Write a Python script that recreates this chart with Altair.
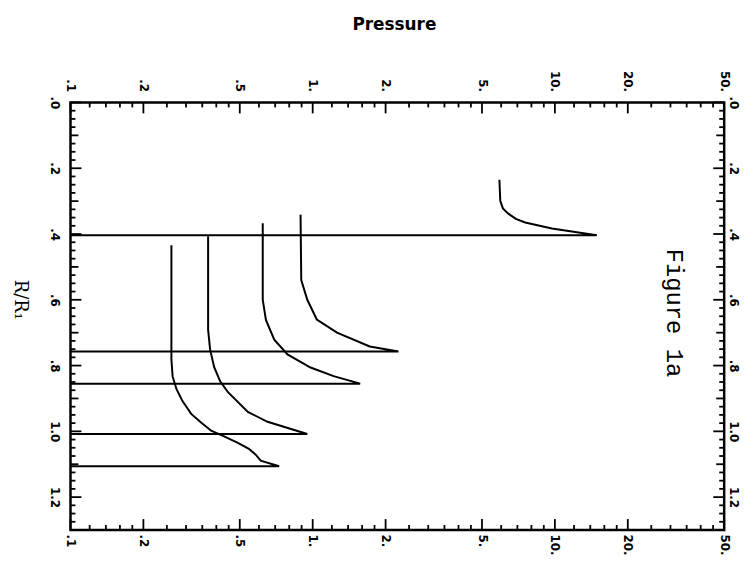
import altair as alt
import pandas as pd

# ---- data ----
shell1_p = [5.90, 5.95, 6.10, 6.42, 6.90, 7.54, 9.72, 14.9]
shell1_r = [0.235, 0.299, 0.322, 0.338, 0.354, 0.365, 0.383, 0.404]

shell2_p = [0.891, 0.897, 0.950, 1.04, 1.26, 1.72, 2.26]
shell2_r = [0.341, 0.540, 0.600, 0.660, 0.700, 0.742, 0.757]

shell3_p = [0.622, 0.622, 0.641, 0.694, 0.787, 0.980, 1.22, 1.57]
shell3_r = [0.367, 0.600, 0.661, 0.721, 0.766, 0.806, 0.832, 0.855]

shell4_p = [0.370, 0.370, 0.377, 0.392, 0.415, 0.447, 0.540, 0.651, 0.950]
shell4_r = [0.407, 0.691, 0.751, 0.805, 0.848, 0.881, 0.941, 0.971, 1.008]

shell5_p = [0.261, 0.261, 0.264, 0.274, 0.290, 0.315, 0.347, 0.381, 0.435,
            0.491, 0.545, 0.582, 0.610, 0.727]
shell5_r = [0.434, 0.781, 0.833, 0.872, 0.908, 0.947, 0.974, 0.998, 1.017,
            1.035, 1.053, 1.071, 1.089, 1.106]

p_min = 0.1  # left edge of the pressure axis (each wall line runs back to it)

x_major = [0.1, 0.2, 0.5, 1, 2, 5, 10, 20, 50]
x_major_labels = [".1", ".2", ".5", "1.", "2.", "5.", "10.", "20.", "50."]
x_minor = [0.12, 0.14, 0.16, 0.18, 0.25, 0.3, 0.35, 0.4, 0.45,
           0.6, 0.7, 0.8, 0.9, 1.2, 1.4, 1.6, 1.8, 2.5, 3, 3.5, 4, 4.5,
           6, 7, 8, 9, 12, 14, 16, 18, 25, 30, 35, 40, 45]

y_major = [0.0, 0.2, 0.4, 0.6, 0.8, 1.0, 1.2]
y_major_labels = [".0", ".2", ".4", ".6", ".8", "1.0", "1.2"]
y_mid = [0.1, 0.3, 0.5, 0.7, 0.9, 1.1]
y_minor = [0.025, 0.05, 0.075, 0.125, 0.15, 0.175, 0.225, 0.25, 0.275,
           0.325, 0.35, 0.375, 0.425, 0.45, 0.475, 0.525, 0.55, 0.575,
           0.625, 0.65, 0.675, 0.725, 0.75, 0.775, 0.825, 0.85, 0.875,
           0.925, 0.95, 0.975, 1.025, 1.05, 1.075, 1.125, 1.15, 1.175,
           1.225, 1.25, 1.275]

fig_text = ["Figure 1a"]
fig_p = [31.0]
fig_r = [0.64]

y_title = "R/R₁"
x_title = "Pressure"

# ---- build table ----
rows = []
for k, (ps, rs) in enumerate([(shell1_p, shell1_r), (shell2_p, shell2_r),
                              (shell3_p, shell3_r), (shell4_p, shell4_r),
                              (shell5_p, shell5_r)]):
    pts = list(zip(ps, rs)) + [(p_min, rs[-1])]
    for i, (p, r) in enumerate(pts):
        rows.append({"shell": k, "idx": i, "P": p, "R": r})
df = pd.DataFrame(rows)

W, H = 659, 431
xscale = alt.Scale(type="log", domain=[0.1, 50], nice=False)
yscale = alt.Scale(domain=[0, 1.3], reverse=True, nice=False, zero=False)

def label_expr(vals, labs):
    e = "''"
    for v, l in reversed(list(zip(vals, labs))):
        e = f"datum.value == {v} ? '{l}' : ({e})"
    return e

lab_common = dict(ticks=False, domain=False, grid=False, labelAngle=90,
                  labelFont="DejaVu Sans", labelFontWeight="bold",
                  labelFontSize=12, labelColor="black", labelFlush=False,
                  labelOverlap=False, labelBound=False)

x_bottom = alt.Axis(orient="bottom", values=x_major,
                    labelExpr=label_expr(x_major, x_major_labels),
                    labelAlign="left", labelBaseline="middle",
                    labelPadding=4, title=None, **lab_common)
x_top = alt.Axis(orient="top", values=x_major,
                 labelExpr=label_expr(x_major, x_major_labels),
                 labelAlign="right", labelBaseline="middle",
                 labelPadding=11, title=x_title,
                 titleFont="DejaVu Sans", titleFontWeight="bold",
                 titleFontSize=17, titleColor="black",
                 titleAlign="center", titleBaseline="middle",
                 titleX=326, titleY=-79, **lab_common)
y_left = alt.Axis(orient="left", values=y_major,
                  labelExpr=label_expr(y_major, y_major_labels),
                  labelAlign="center", labelBaseline="top",
                  labelPadding=11, title=None, **lab_common)
y_right = alt.Axis(orient="right", values=y_major,
                   labelExpr=label_expr(y_major, y_major_labels),
                   labelAlign="center", labelBaseline="alphabetic",
                   labelPadding=5, title=None, **lab_common)

lines = alt.Chart(df).mark_line(color="black", strokeWidth=2).encode(
    x=alt.X("P:Q", scale=xscale, axis=x_bottom),
    y=alt.Y("R:Q", scale=yscale, axis=y_left),
    detail="shell:N",
    order="idx:Q",
)
axes2 = alt.Chart(df).mark_point(opacity=0).encode(
    x=alt.X("P:Q", scale=xscale, axis=x_top),
    y=alt.Y("R:Q", scale=yscale, axis=y_right),
)

def xticks(vals, length):
    d = pd.DataFrame({"v": vals})
    top = alt.Chart(d).mark_rule(color="black", strokeWidth=1.8).encode(
        x=alt.X("v:Q", scale=xscale, axis=None),
        y=alt.value(0), y2=alt.value(length))
    bot = alt.Chart(d).mark_rule(color="black", strokeWidth=1.8).encode(
        x=alt.X("v:Q", scale=xscale, axis=None),
        y=alt.value(H), y2=alt.value(H - length))
    return [top, bot]

def yticks(vals, length):
    d = pd.DataFrame({"v": vals})
    left = alt.Chart(d).mark_rule(color="black", strokeWidth=1.8).encode(
        y=alt.Y("v:Q", scale=yscale, axis=None),
        x=alt.value(0), x2=alt.value(length))
    right = alt.Chart(d).mark_rule(color="black", strokeWidth=1.8).encode(
        y=alt.Y("v:Q", scale=yscale, axis=None),
        x=alt.value(W), x2=alt.value(W - length))
    return [left, right]

tick_layers = (xticks(x_major, 11) + xticks(x_minor, 5) +
               yticks(y_major, 11) + yticks(y_mid, 8) + yticks(y_minor, 5))

fig = alt.Chart(pd.DataFrame({"t": fig_text, "P": fig_p, "R": fig_r})).mark_text(
    angle=90, font="Liberation Mono", fontSize=24, color="black",
    align="center", baseline="middle").encode(
    x=alt.X("P:Q", scale=xscale, axis=None),
    y=alt.Y("R:Q", scale=yscale, axis=None),
    text="t:N")

ytitle = alt.Chart(pd.DataFrame({"t": [y_title]})).mark_text(
    angle=90, font="DejaVu Serif", fontSize=18, color="black",
    align="center", baseline="middle").encode(
    x=alt.value(-51), y=alt.value(199), text="t:N")

chart = alt.layer(lines, axes2, *tick_layers, fig, ytitle).resolve_axis(
    x="independent", y="independent"
).properties(
    width=W, height=H,
    autosize=alt.AutoSizeParams(type="none"),
    padding={"left": 63, "top": 93, "right": 22, "bottom": 28},
    background="white",
).configure_view(stroke="black", strokeWidth=2.5)

chart.save("out.html", embed_options={"renderer": "svg", "actions": False})
